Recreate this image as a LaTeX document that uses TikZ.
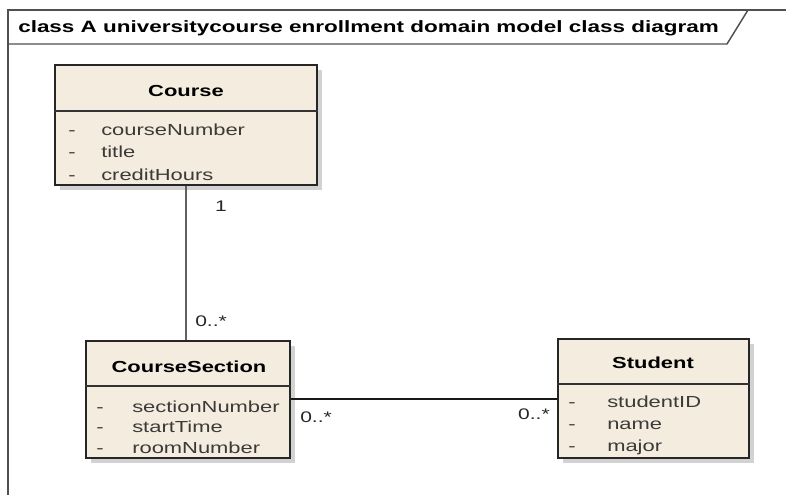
\documentclass[tikz,border=0pt]{standalone}
\usepackage{fontspec}
\setmainfont{Liberation Sans}[FakeStretch=1.37]
\usetikzlibrary{fit,shadows}
\definecolor{classfill}{HTML}{F4ECDF}
\definecolor{framegray}{HTML}{505050}
\definecolor{attrgray}{HTML}{3C3A38}
\tikzset{
  x=0.75pt, y=-0.75pt,
  classbox/.style={draw=black!85, line width=1pt, fill=classfill, inner sep=0pt,
    drop shadow={shadow xshift=3.5pt, shadow yshift=-3.5pt, fill=black!22, opacity=0.8}},
  divider/.style={draw=black!80, line width=0.9pt},
  classname/.style={font=\fontsize{12}{14}\selectfont\bfseries, text=black, inner sep=0pt, anchor=base},
  attr/.style={font=\fontsize{12}{14}\selectfont, text=attrgray, anchor=base west, inner sep=0pt},
  vis/.style={font=\fontsize{12}{14}\selectfont, text=attrgray, anchor=base, inner sep=0pt},
  mult/.style={font=\fontsize{11.5}{13}\selectfont, text=black!85, inner sep=0pt},
  frameline/.style={draw=framegray, line width=1.1pt},
  assoc/.style={draw=black!90, line width=0.8pt},
  compline/.style={draw=black!62, line width=1.6pt}
}
\begin{document}
\begin{tikzpicture}
\useasboundingbox (0,0) rectangle (786,495);
\fill[white] (0,0) rectangle (786,495);

% diagram frame and name tab
\draw[frameline] (8,495) -- (8,10) -- (786,10);
\draw[frameline] (8,44) -- (727,44) -- (748,10);
\node[font=\fontsize{12.3}{14}\selectfont\bfseries, anchor=base west, inner sep=0pt] (title) at (18,33)
  {class A universitycourse enrollment domain model class diagram};

% Course
\node[classbox, fit={(55,65) (317,185)}] (course) {};
\draw[divider] (course.west |- 0,111) -- (course.east |- 0,111);
\node[classname] (courseName) at (186,97) {Course};
\node[vis] (cv1) at (72,136) {-};
\node[vis] (cv2) at (72,158) {-};
\node[vis] (cv3) at (72,181) {-};
\node[attr] (ca1) at (101,136) {courseNumber};
\node[attr] (ca2) at (101,158) {title};
\node[attr] (ca3) at (101,181) {creditHours};

% CourseSection
\node[classbox, fit={(86,341) (290,458)}] (section) {};
\draw[divider] (section.west |- 0,386) -- (section.east |- 0,386);
\node[classname] (sectionName) at (189,373) {CourseSection};
\node[vis] (sv1) at (100,412) {-};
\node[vis] (sv2) at (100,433) {-};
\node[vis] (sv3) at (100,454) {-};
\node[attr] (sa1) at (132,412) {sectionNumber};
\node[attr] (sa2) at (132,433) {startTime};
\node[attr] (sa3) at (132,454) {roomNumber};

% Student
\node[classbox, fit={(558,339) (749,458)}] (student) {};
\draw[divider] (student.west |- 0,384) -- (student.east |- 0,384);
\node[classname] (studentName) at (653,369) {Student};
\node[vis] (tv1) at (572,408) {-};
\node[vis] (tv2) at (572,430) {-};
\node[vis] (tv3) at (572,451) {-};
\node[attr] (ta1) at (607,408) {studentID};
\node[attr] (ta2) at (607,430) {name};
\node[attr] (ta3) at (607,451) {major};

% associations
\draw[compline] (course.south) -- (course.south |- section.north);
\draw[assoc] (section.east |- 0,399) -- (student.west |- 0,399);

% multiplicities
\node[mult, anchor=base] (m1) at (221,212) {1};
\node[mult, anchor=base west] (m2) at (195,327) {0..*};
\node[mult, anchor=base west] (m3) at (300,422) {0..*};
\node[mult, anchor=base east] (m4) at (550,420) {0..*};
\end{tikzpicture}
\end{document}
